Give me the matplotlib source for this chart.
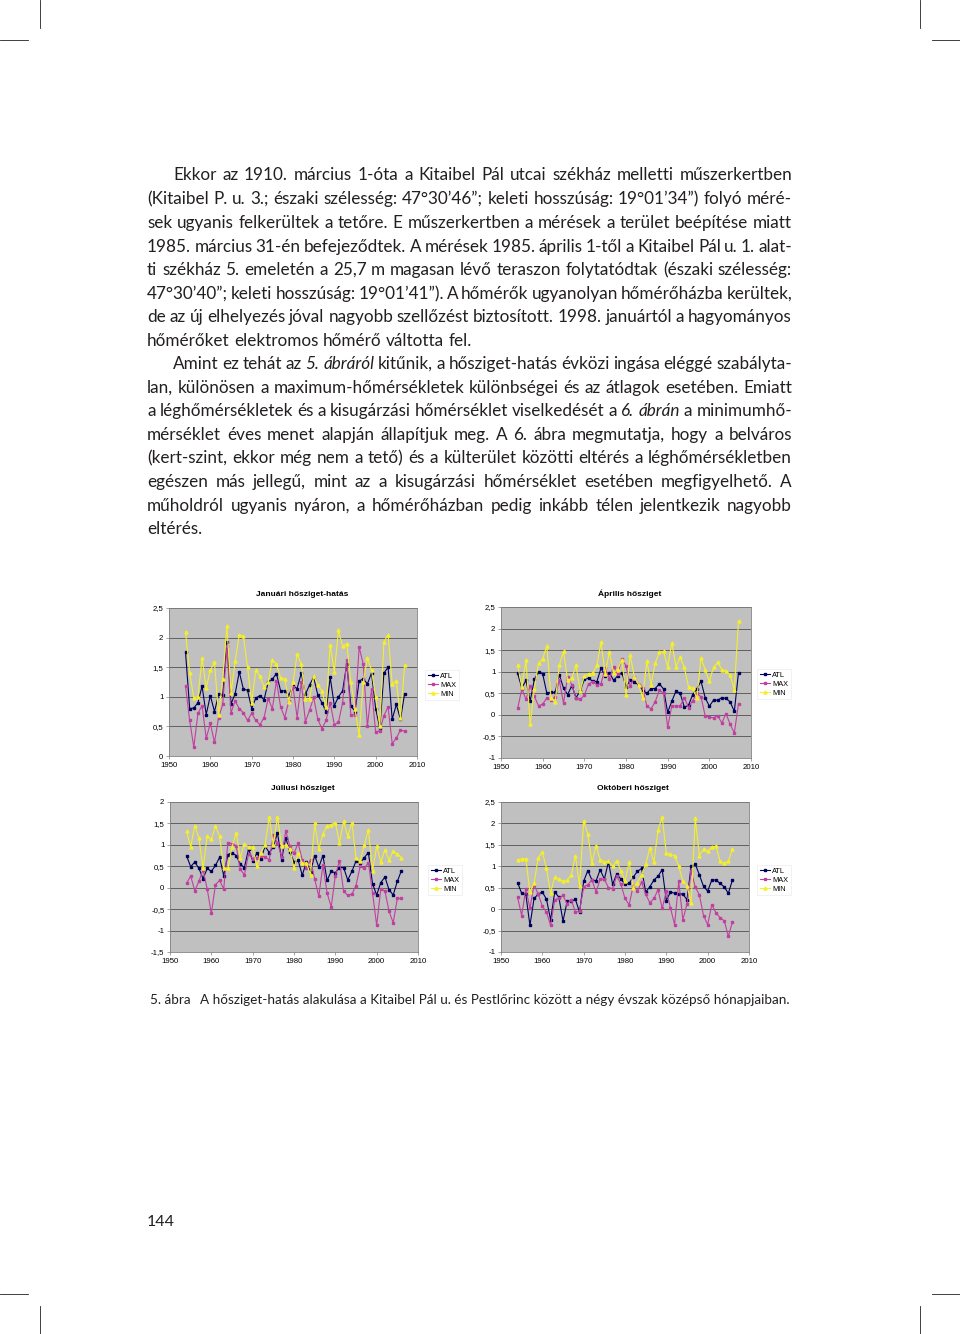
#!/usr/bin/env python
# Page with four small urban heat island charts (Kitaibel Pál u. vs Pestlőrinc)

import matplotlib
matplotlib.use('Agg')
import matplotlib.pyplot as plt
from matplotlib.lines import Line2D
from matplotlib.ticker import FuncFormatter, MultipleLocator

W, H = 960, 1334

# ---- data ----
years_jan_apr = list(range(1954, 2008))
years_jul_oct = list(range(1954, 2007))

jan_atl = [1.75, 0.80, 0.81, 0.90, 1.18, 0.70, 1.02, 0.75, 1.04, 1.03,
           1.93, 0.88, 1.05, 1.42, 1.13, 1.11, 0.80, 0.98, 1.02, 0.95,
           1.25, 1.30, 1.39, 1.10, 1.10, 1.03, 1.18, 1.14, 1.40, 1.04,
           1.20, 1.33, 1.03, 0.90, 0.75, 1.33, 0.85, 1.00, 1.10, 1.55,
           0.85, 0.75, 1.27, 1.30, 1.22, 1.40, 0.80, 0.47, 1.40, 1.50,
           0.62, 0.87, 0.62, 1.05]
jan_max = [1.18, 0.60, 0.15, 0.72, 0.85, 0.30, 0.55, 0.23, 0.65, 0.87,
           1.85, 0.73, 0.93, 0.80, 0.73, 0.60, 0.72, 0.60, 0.53, 0.65,
           0.97, 0.80, 1.27, 0.83, 0.65, 0.93, 1.17, 0.65, 1.25, 0.58,
           0.77, 0.99, 0.62, 0.46, 0.60, 0.90, 0.53, 0.57, 0.90, 1.62,
           0.69, 0.70, 1.84, 1.55, 0.50, 1.13, 0.40, 0.43, 0.68, 0.83,
           0.21, 0.30, 0.44, 0.42]
jan_min = [2.10, 1.40, 0.98, 1.00, 1.65, 1.15, 1.45, 1.58, 0.70, 1.30,
           2.20, 1.07, 1.60, 2.05, 2.02, 1.50, 0.90, 1.45, 1.35, 1.17,
           1.25, 1.62, 1.55, 1.32, 1.30, 0.92, 1.25, 1.72, 1.55, 0.97,
           0.97, 1.35, 1.20, 1.10, 0.82, 1.88, 1.42, 2.12, 1.85, 1.90,
           1.25, 0.80, 0.35, 1.25, 1.65, 1.45, 1.00, 0.50, 1.93, 2.05,
           1.22, 1.27, 0.65, 1.53]

apr_atl = [0.96, 0.62, 0.80, 0.32, 0.82, 1.00, 0.95, 0.50, 0.52, 0.52,
           0.93, 0.62, 0.47, 0.68, 0.40, 0.55, 0.82, 0.85, 0.78, 0.77,
           1.08, 0.90, 0.98, 0.80, 0.90, 0.98, 0.65, 0.80, 0.76, 0.70,
           0.57, 0.50, 0.61, 0.61, 0.72, 0.60, 0.06, 0.32, 0.55, 0.50,
           0.18, 0.22, 0.47, 0.60, 0.78, 0.40, 0.20, 0.34, 0.34, 0.40,
           0.38, 0.30, 0.08, 0.98]
apr_max = [0.15, 0.60, 0.36, 0.66, 0.43, 0.21, 0.25, 0.39, 0.34, 0.42,
           0.80, 0.27, 0.88, 0.70, 0.38, 0.36, 0.45, 0.72, 0.76, 0.70,
           0.72, 1.08, 0.84, 1.12, 0.95, 1.30, 1.14, 0.67, 0.87, 0.70,
           0.63, 0.20, 0.14, 0.30, 0.57, 0.50, -0.29, 0.21, 0.20, 0.21,
           0.40, 0.17, 0.33, 0.50, 0.42, -0.02, -0.05, -0.07, -0.02, -0.19,
           0.03, -0.22, -0.42, 0.26]
apr_min = [1.15, 0.65, 1.27, -0.22, 0.60, 1.20, 1.30, 1.60, 0.40, 0.30,
           1.15, 1.47, 0.80, 0.85, 1.15, 0.55, 0.90, 0.95, 0.97, 1.15,
           1.68, 0.95, 1.45, 0.98, 1.05, 1.28, 0.47, 1.38, 0.88, 0.70,
           0.40, 1.25, 0.70, 1.20, 1.45, 1.47, 1.12, 1.67, 1.12, 1.33,
           1.10, 0.65, 0.62, 0.38, 1.32, 1.05, 0.78, 1.10, 1.22, 1.05,
           1.02, 0.92, 0.58, 2.18]

jul_atl = [0.75, 0.49, 0.60, 0.45, 0.21, 0.45, 0.38, 0.52, 0.71, 0.28,
           0.77, 0.82, 0.75, 0.55, 0.47, 0.90, 0.63, 0.80, 0.67, 0.97,
           0.82, 0.95, 1.28, 0.65, 1.17, 0.83, 0.60, 0.64, 0.29, 0.60,
           0.37, 0.75, 0.48, 0.75, 0.17, 0.38, 0.35, 0.47, 0.47, 0.18,
           0.38, 0.62, 0.58, 0.70, 0.82, 0.09, -0.17, 0.12, 0.25, -0.05,
           -0.17, 0.15, 0.40]
jul_max = [0.10, 0.27, -0.07, 0.15, 0.42, -0.03, -0.60, 0.07, 0.17, -0.03,
           1.05, 1.03, 0.98, 0.43, 0.30, 0.78, 0.68, 0.70, 0.74, 0.72,
           0.65, 1.22, 1.05, 0.72, 1.33, 0.97, 0.80, 1.04, 0.65, 0.45,
           0.65, 0.20, -0.20, 0.53, -0.12, -0.45, 0.28, 0.63, -0.08, -0.18,
           -0.15, 0.05, 0.50, 0.45, 0.58, -0.12, -0.88, -0.02, -0.08, -0.55,
           -0.82, -0.25, -0.25]
jul_min = [1.33, 0.95, 1.45, 1.15, 0.45, 1.20, 1.13, 1.43, 1.20, 0.45,
           0.45, 0.95, 1.28, 0.70, 1.02, 0.95, 0.95, 0.50, 0.82, 1.00,
           1.65, 1.00, 1.65, 0.97, 1.00, 0.90, 0.45, 0.80, 0.57, 0.58,
           0.30, 1.50, 0.90, 1.25, 1.45, 1.47, 1.52, 1.05, 1.55, 1.20,
           1.52, 0.70, 0.62, 1.00, 1.35, 0.40, 0.97, 0.60, 0.88, 0.65,
           0.85, 0.78, 0.70]

oct_atl = [0.62, 0.37, 0.35, -0.38, 0.25, 0.35, 0.40, 0.23, -0.25, 0.40,
           0.28, -0.28, 0.18, 0.18, 0.23, -0.07, 0.65, 0.90, 0.68, 0.66,
           0.92, 0.70, 1.10, 0.58, 0.82, 0.70, 0.58, 0.60, 0.75, 0.88,
           0.95, 0.40, 0.52, 0.68, 0.77, 0.92, 0.20, 0.40, 0.37, 0.36,
           0.35, 0.22, 1.00, 1.05, 0.80, 0.53, 0.42, 0.68, 0.68, 0.60,
           0.52, 0.37, 0.68]
oct_max = [0.28, -0.15, 0.47, 0.02, 0.57, 0.35, 0.07, -0.07, -0.38, 0.22,
           0.25, 0.32, 0.12, 0.22, -0.07, -0.05, 0.52, 0.57, 0.68, 0.40,
           0.70, 0.70, 0.50, 0.48, 0.78, 0.58, 0.25, 0.10, 0.55, 0.42,
           0.63, 0.35, 0.15, 0.25, 0.45, 0.02, 0.42, 0.03, -0.36, 0.65,
           -0.25, 0.12, 0.88, 0.52, 0.33, -0.15, -0.36, 0.10, -0.08, -0.20,
           -0.27, -0.63, -0.30]
oct_min = [1.15, 1.17, 1.18, 0.40, 0.60, 1.20, 1.33, 0.95, 0.38, 0.75,
           0.70, 0.65, 0.67, 0.80, 1.25, 0.55, 2.05, 1.75, 1.08, 1.48,
           1.15, 1.10, 1.12, 1.00, 1.13, 0.90, 0.65, 1.10, 0.50, 0.62,
           0.80, 1.05, 1.42, 1.10, 1.85, 2.15, 1.30, 1.28, 1.25, 1.00,
           0.65, 0.55, 0.15, 2.12, 1.25, 1.40, 1.35, 1.45, 1.47, 1.12,
           1.07, 1.12, 1.40]

series_labels = ['ATL', 'MAX', 'MIN']
x_ticks = [1950, 1960, 1970, 1980, 1990, 2000, 2010]

# ---- page text ----
body_lines = [
    # (text, y, indent, justified); words starting with * are italic
    ("Ekkor az 1910. március 1-óta a Kitaibel Pál utcai székház melletti műszerkertben", 175, True, True),
    ("(Kitaibel P. u. 3.; északi szélesség: 47°30’46”; keleti hosszúság: 19°01’34”) folyó méré-", 199, False, True),
    ("sek ugyanis felkerültek a tetőre. E műszerkertben a mérések a terület beépítése miatt", 223, False, True),
    ("1985. március 31-én befejeződtek. A mérések 1985. április 1-től a Kitaibel Pál u. 1. alat-", 247, False, True),
    ("ti székház 5. emeletén a 25,7 m magasan lévő teraszon folytatódtak (északi szélesség:", 270, False, True),
    ("47°30’40”; keleti hosszúság: 19°01’41”). A hőmérők ugyanolyan hőmérőházba kerültek,", 294, False, True),
    ("de az új elhelyezés jóval nagyobb szellőzést biztosított. 1998. januártól a hagyományos", 317, False, True),
    ("hőmérőket elektromos hőmérő váltotta fel.", 341, False, False),
    ("Amint ez tehát az *5. *ábráról kitűnik, a hősziget-hatás évközi ingása eléggé szabályta-", 364, True, True),
    ("lan, különösen a maximum-hőmérsékletek különbségei és az átlagok esetében. Emiatt", 388, False, True),
    ("a léghőmérsékletek és a kisugárzási hőmérséklet viselkedését a *6. *ábrán a minimumhő-", 411, False, True),
    ("mérséklet éves menet alapján állapítjuk meg.  A 6. ábra megmutatja, hogy a belváros", 435, False, True),
    ("(kert-szint, ekkor még nem a tető) és a külterület közötti eltérés a léghőmérsékletben", 458, False, True),
    ("egészen más jellegű, mint az a kisugárzási hőmérséklet esetében megfigyelhető. A", 482, False, True),
    ("műholdról ugyanis nyáron, a hőmérőházban pedig inkább télen jelentkezik nagyobb", 506, False, True),
    ("eltérés.", 529, False, False),
]
caption_num = "5. ábra"
caption_text = "A hősziget-hatás alakulása a Kitaibel Pál u. és Pestlőrinc között a négy évszak középső hónapjaiban."
page_number = "144"

BODY_FONT = 'Lato'
CHART_FONT = 'Liberation Sans'
TEXT_COLOR = '#231f20'
LEFT, RIGHT, INDENT = 147, 792, 26

fig = plt.figure(figsize=(W / 100, H / 100), dpi=100)
fig.patch.set_facecolor('white')
renderer = fig.canvas.get_renderer()


def fx(x):
    return x / W


def fy(y):
    return 1 - y / H


def measure(word, size, style='normal'):
    t = fig.text(0, 0, word, fontsize=size, family=BODY_FONT, style=style)
    w = t.get_window_extent(renderer=renderer).width
    t.remove()
    return w


def split_words(line):
    out = []
    for w in line.split():
        if w.startswith('*'):
            out.append((w[1:], 'italic'))
        else:
            out.append((w, 'normal'))
    return out


# choose body size so the tightest justified line still has a small gap
base = 12.0
scale = 10.0
for text, y, indent, just in body_lines:
    if not just:
        continue
    words = split_words(text)
    total = sum(measure(w, base, s) for w, s in words)
    target = RIGHT - LEFT - (INDENT if indent else 0)
    scale = min(scale, (target - 3.2 * (len(words) - 1)) / total)
body_size = base * scale
space_w = measure('a a', body_size) - measure('aa', body_size)

for text, y, indent, just in body_lines:
    words = split_words(text)
    widths = [measure(w, body_size, s) for w, s in words]
    x = LEFT + (INDENT if indent else 0)
    if just:
        gap = (RIGHT - x - sum(widths)) / (len(words) - 1)
    else:
        gap = space_w
    for (w, s), wd in zip(words, widths):
        fig.text(fx(x), fy(y + 5), w, fontsize=body_size, family=BODY_FONT,
                 style=s, color=TEXT_COLOR, ha='left', va='baseline')
        x += wd + gap

# caption
cap_size = 10.0 * 588 / measure(caption_text, 10.0)
fig.text(fx(150), fy(1004), caption_num, fontsize=cap_size, family=BODY_FONT,
         color=TEXT_COLOR, ha='left', va='baseline')
fig.text(fx(200), fy(1004), caption_text, fontsize=cap_size, family=BODY_FONT,
         color=TEXT_COLOR, ha='left', va='baseline')
fig.text(fx(147), fy(1226), page_number, fontsize=11.5, family=BODY_FONT,
         color=TEXT_COLOR, ha='left', va='baseline')

# crop marks
for xs, ys in [((40, 40), (0, 28)), ((0, 28), (40, 40)),
               ((920, 920), (0, 28)), ((932, 960), (40, 40)),
               ((40, 40), (1306, 1334)), ((0, 28), (1294, 1294)),
               ((920, 920), (1306, 1334)), ((932, 960), (1294, 1294))]:
    fig.add_artist(Line2D([fx(v) for v in xs], [fy(v) for v in ys],
                          color='#231f20', lw=0.6, transform=fig.transFigure))


def comma_fmt(v, pos):
    return f'{v:g}'.replace('.', ',')


def draw_chart(rect, title, title_x, title_y, years, atl, mx, mn, ylim, legend_x, legend_y):
    x0, y0, x1, y1 = rect
    ax = fig.add_axes([fx(x0), fy(y1), (x1 - x0) / W, (y1 - y0) / H])
    ax.set_facecolor('#c0c0c0')
    ax.plot(years, atl, color='#00005e', lw=0.8, marker='s', ms=1.8, label=series_labels[0])
    ax.plot(years, mx, color='#c040a0', lw=0.8, marker='s', ms=2.0, label=series_labels[1])
    ax.plot(years, mn, color='#f4ef2a', lw=0.8, marker='^', ms=2.2, label=series_labels[2])
    ax.set_xlim(1950, 2010)
    ax.set_ylim(*ylim)
    ax.set_xticks(x_ticks)
    ax.yaxis.set_major_locator(MultipleLocator(0.5))
    ax.yaxis.set_major_formatter(FuncFormatter(comma_fmt))
    ax.yaxis.grid(True, color='#3a3a3a', lw=0.5)
    ax.set_axisbelow(True)
    for sp in ax.spines.values():
        sp.set_color('#808080')
        sp.set_linewidth(0.6)
    ax.tick_params(labelsize=5.6, length=2, width=0.5, pad=2, color='#808080')
    for lab in ax.get_xticklabels() + ax.get_yticklabels():
        lab.set_family(CHART_FONT)
    fig.text(fx(title_x), fy(title_y), title, fontsize=6, fontweight='bold',
             family=CHART_FONT, ha='center', va='center', color='black')
    leg = ax.legend(loc='center left', bbox_to_anchor=(fx(legend_x), fy(legend_y)),
                    bbox_transform=fig.transFigure, fontsize=5.3, frameon=True,
                    fancybox=False, borderpad=0.35, labelspacing=0.25,
                    handlelength=1.4, handletextpad=0.3, borderaxespad=0)
    leg.get_frame().set_edgecolor('#e0e0e0')
    leg.get_frame().set_linewidth(0.4)
    for t in leg.get_texts():
        t.set_family(CHART_FONT)
    return ax


draw_chart((169, 608, 417, 756), 'Januári hősziget-hatás', 302, 594,
           years_jan_apr, jan_atl, jan_max, jan_min, (0, 2.5), 425, 685)
draw_chart((501, 607, 751, 758), 'Április hősziget', 630, 594,
           years_jan_apr, apr_atl, apr_max, apr_min, (-1, 2.5), 757, 684)
draw_chart((170, 802, 418, 952), 'Júliusi hősziget', 303, 789,
           years_jul_oct, jul_atl, jul_max, jul_min, (-1.5, 2), 428, 880)
draw_chart((501, 802, 749, 952), 'Októberi hősziget', 633, 789,
           years_jul_oct, oct_atl, oct_max, oct_min, (-1, 2.5), 757, 880)

fig.savefig('out.png', dpi=100, facecolor='white')
print('saved out.png')
